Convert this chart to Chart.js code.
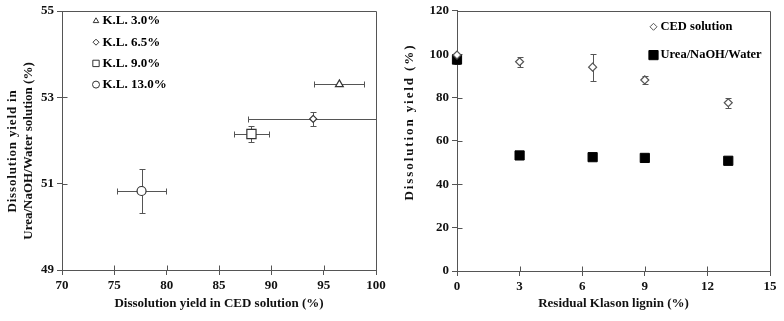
<!DOCTYPE html>
<html>
<head>
<meta charset="utf-8">
<script src="https://cdn.jsdelivr.net/npm/chart.js@4.4.0/dist/chart.umd.min.js"></script>
<style>
body { margin: 0; background: #fff; }
.wrap { display: flex; width: 784px; height: 321px; }
canvas { display: block; }
</style>
</head>
<body>
<div class="wrap">
  <canvas id="leftChart" width="392" height="321"></canvas>
  <canvas id="rightChart" width="392" height="321"></canvas>
</div>
<script>
// residual Klason lignin (%) of the samples
const lignin = [0, 3, 6.5, 9, 13];
// dissolution yields (%) and their error
const cedYield = [99.6, 96.5, 94.0, 88.1, 77.6];
const cedErr = [0.6, 2.4, 6.2, 1.7, 2.3];
const ureaYield = [97.5, 53.3, 52.5, 52.15, 50.83];
const ureaErr = [2.0, 0, 0.16, 0.18, 0.5];

const sampleLabels = ['K.L. 3.0%', 'K.L. 6.5%', 'K.L. 9.0%', 'K.L. 13.0%'];
const sampleStyles = ['triangle', 'rectRot', 'rect', 'circle'];
const seriesLabels = ['CED solution', 'Urea/NaOH/Water'];

const leftXTicks = [70, 75, 80, 85, 90, 95, 100];
const leftYTicks = [49, 51, 53, 55];
const rightXTicks = [0, 3, 6, 9, 12, 15];
const rightYTicks = [0, 20, 40, 60, 80, 100, 120];

const leftXTitle = 'Dissolution yield in CED solution (%)';
const leftYTitle = ['Dissolution yield in', 'Urea/NaOH/Water solution (%)'];
const rightXTitle = 'Residual Klason lignin (%)';
const rightYTitle = ['Dissolution yield (%)'];

const serif = 'Liberation Serif, Times New Roman, serif';
const axisColor = '#555';

// error bars, top/right frame and inner tick marks
const errorBars = {
    id: 'errorBars',
    beforeDatasetsDraw(chart) {
        const {ctx, chartArea: a, scales: {x, y}} = chart;
        ctx.save();
        ctx.beginPath();
        ctx.rect(a.left - 6, a.top - 6, a.right - a.left + 6, a.bottom - a.top + 12);
        ctx.clip();
        ctx.strokeStyle = '#555';
        ctx.lineWidth = 1;
        chart.data.datasets.forEach(ds => {
            ds.data.forEach((p, i) => {
                const px = Math.round(x.getPixelForValue(p.x)) + 0.5;
                const py = Math.round(y.getPixelForValue(p.y)) + 0.5;
                const ex = ds.xErr ? ds.xErr[i] : 0;
                const ey = ds.yErr ? ds.yErr[i] : 0;
                ctx.beginPath();
                if (ex) {
                    const l = Math.round(x.getPixelForValue(p.x - ex)) + 0.5;
                    const r = Math.round(x.getPixelForValue(p.x + ex)) + 0.5;
                    ctx.moveTo(l, py); ctx.lineTo(r, py);
                    ctx.moveTo(l, py - 3); ctx.lineTo(l, py + 3);
                    ctx.moveTo(r, py - 3); ctx.lineTo(r, py + 3);
                }
                if (ey) {
                    const t = Math.round(y.getPixelForValue(p.y + ey)) + 0.5;
                    const b = Math.round(y.getPixelForValue(p.y - ey)) + 0.5;
                    ctx.moveTo(px, t); ctx.lineTo(px, b);
                    ctx.moveTo(px - 3, t); ctx.lineTo(px + 3, t);
                    ctx.moveTo(px - 3, b); ctx.lineTo(px + 3, b);
                }
                ctx.stroke();
            });
        });
        ctx.restore();

        ctx.save();
        ctx.strokeStyle = axisColor;
        ctx.lineWidth = 1;
        const L = Math.round(a.left) + 0.5, R = Math.round(a.right) + 0.5;
        const T = Math.round(a.top) + 0.5, B = Math.round(a.bottom) + 0.5;
        ctx.beginPath();
        ctx.moveTo(L, T); ctx.lineTo(R, T); ctx.lineTo(R, B);
        x.ticks.forEach(t => {
            const tx = Math.round(x.getPixelForValue(t.value)) + 0.5;
            ctx.moveTo(tx, B); ctx.lineTo(tx, B - 5);
        });
        y.ticks.forEach(t => {
            const ty = Math.round(y.getPixelForValue(t.value)) + 0.5;
            ctx.moveTo(L, ty); ctx.lineTo(L + 5, ty);
        });
        ctx.stroke();
        ctx.restore();
    }
};

// legend drawn inside the plot area
const sideLegend = {
    id: 'sideLegend',
    afterDraw(chart, args, opts) {
        const {ctx, chartArea} = chart;
        ctx.save();
        ctx.font = opts.font;
        ctx.textBaseline = 'middle';
        chart.data.datasets.forEach((ds, i) => {
            const x = chartArea.left + opts.left;
            const y = chartArea.top + opts.top + i * opts.step;
            ctx.fillStyle = ds.backgroundColor;
            ctx.strokeStyle = ds.borderColor;
            ctx.lineWidth = 1;
            Chart.helpers.drawPoint(ctx, {pointStyle: ds.pointStyle, radius: opts.radius[i], borderWidth: 1, rotation: 0}, x, y);
            ctx.fillStyle = '#000';
            ctx.fillText(ds.label, x + opts.gap, y);
        });
        ctx.restore();
    }
};

// rotated y axis title, one call per line so each line keeps its own spacing
const yTitle = {
    id: 'yTitle',
    afterDraw(chart, args, opts) {
        const ctx = chart.ctx;
        ctx.save();
        ctx.font = opts.font;
        ctx.fillStyle = '#111';
        ctx.textAlign = 'center';
        ctx.textBaseline = 'middle';
        opts.lines.forEach((ln, i) => {
            ctx.save();
            ctx.translate(opts.x[i], opts.cy[i]);
            ctx.rotate(-Math.PI / 2);
            ctx.letterSpacing = opts.spacing[i] + 'px';
            ctx.fillText(ln, 0, 0);
            ctx.restore();
        });
        ctx.restore();
    }
};

function makeScale(ticksList, title, size) {
    return {
        type: 'linear',
        min: ticksList[0],
        max: ticksList[ticksList.length - 1],
        afterBuildTicks: s => { s.ticks = ticksList.map(v => ({value: v})); },
        afterFit: s => { if (s.isHorizontal()) s.height = size; else s.width = size; },
        grid: {drawOnChartArea: false, drawTicks: true, tickLength: 5, color: axisColor},
        border: {color: axisColor, width: 1},
        ticks: {
            color: '#111',
            padding: 3,
            font: {family: serif, size: 13, weight: 'bold'}
        },
        title: {
            display: !!title,
            text: title || '',
            color: '#111',
            padding: {top: 2, bottom: 10},
            font: {family: serif, size: 13, weight: 'bold'}
        }
    };
}

const leftSets = sampleLabels.map((lab, k) => ({
    label: lab,
    data: [{x: cedYield[k + 1], y: ureaYield[k + 1]}],
    xErr: [cedErr[k + 1]],
    yErr: [ureaErr[k + 1]],
    pointStyle: sampleStyles[k],
    pointRadius: [4.5, 3.5, 6.5, 4.5][k],
    borderColor: '#333',
    backgroundColor: '#fff',
    borderWidth: 1.2,
    clip: false
}));

new Chart(document.getElementById('leftChart'), {
    type: 'scatter',
    data: {datasets: leftSets},
    options: {
        responsive: false,
        animation: false,
        layout: {padding: {top: 11, right: 16, left: 0, bottom: 0}},
        scales: {
            x: makeScale(leftXTicks, leftXTitle, 51),
            y: makeScale(leftYTicks, null, 62)
        },
        plugins: {
            legend: {display: false},
            tooltip: {enabled: false},
            sideLegend: {font: 'bold 13px ' + serif, left: 34, top: 10, step: 21.2, gap: 6.5, radius: [3.2, 3, 4.5, 3.5]},
            yTitle: {font: 'bold 13px ' + serif, lines: leftYTitle, x: [13, 28.5], cy: [151, 151], spacing: [0.85, 0]}
        }
    },
    plugins: [errorBars, sideLegend, yTitle]
});

new Chart(document.getElementById('rightChart'), {
    type: 'scatter',
    data: {
        datasets: [
            {
                label: seriesLabels[0],
                data: lignin.map((v, i) => ({x: v, y: cedYield[i]})),
                yErr: cedErr,
                pointStyle: 'rectRot',
                pointRadius: 4,
                borderColor: '#555',
                backgroundColor: '#fff',
                borderWidth: 1.2,
                clip: false
            },
            {
                label: seriesLabels[1],
                data: lignin.map((v, i) => ({x: v, y: ureaYield[i]})),
                yErr: ureaErr,
                pointStyle: 'rect',
                pointRadius: 6.5,
                borderColor: '#000',
                backgroundColor: '#000',
                borderWidth: 1,
                clip: false
            }
        ]
    },
    options: {
        responsive: false,
        animation: false,
        layout: {padding: {top: 10, right: 14, left: 0, bottom: 0}},
        scales: {
            x: makeScale(rightXTicks, rightXTitle, 50),
            y: makeScale(rightYTicks, null, 65)
        },
        plugins: {
            legend: {display: false},
            tooltip: {enabled: false},
            sideLegend: {font: 'bold 12.5px ' + serif, left: 196.5, top: 16, step: 28.3, gap: 7, radius: [3.5, 6.5]},
            yTitle: {font: 'bold 13px ' + serif, lines: rightYTitle, x: [18], cy: [122], spacing: [1.9]}
        }
    },
    plugins: [errorBars, sideLegend, yTitle]
});
</script>
</body>
</html>
